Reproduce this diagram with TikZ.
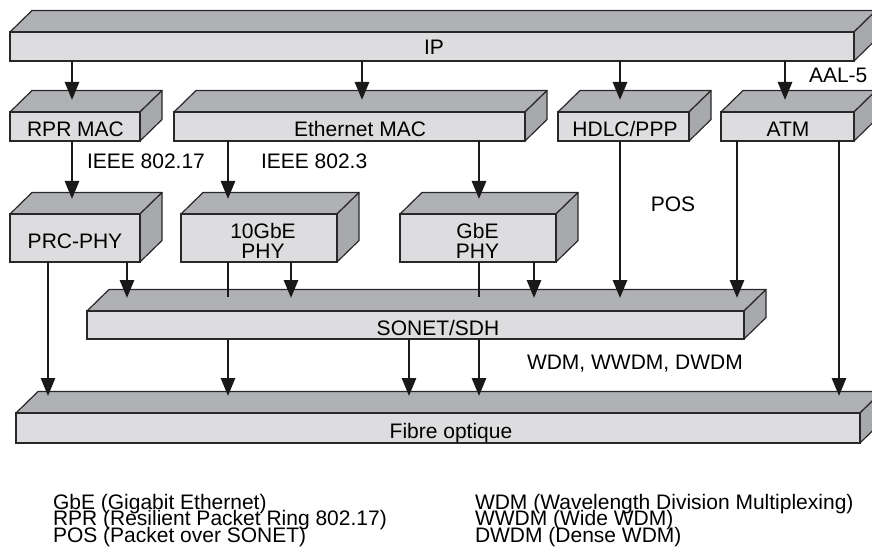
\documentclass[tikz,border=0pt]{standalone}
\usepackage{fontspec}
\setmainfont{Liberation Sans}
\usetikzlibrary{arrows.meta,calc}
\definecolor{frontc}{RGB}{221,221,223}
\definecolor{topc}{RGB}{176,177,181}
\definecolor{sidec}{RGB}{168,169,173}
\definecolor{edgec}{RGB}{40,40,40}
\newcommand\slab[5]{%
  \filldraw[topf] (#2,#3) -- (#2+22,#3-21.5) -- (#4+22,#3-21.5) -- (#4,#3) -- cycle;
  \filldraw[sidef] (#4,#3) -- (#4+22,#3-21.5) -- (#4+22,#5-21.5) -- (#4,#5) -- cycle;
  \node[face, minimum width=#4-#2, minimum height=#5-#3] (#1) at (#2,#3) {};
}
\begin{document}
\begin{tikzpicture}[x=1pt,y=-1pt,
  face/.style={draw=edgec, line width=1.2pt, fill=frontc, inner sep=0pt, outer sep=0pt, anchor=north west},
  topf/.style={draw=edgec, line width=1.2pt, fill=topc, line join=round},
  sidef/.style={draw=edgec, line width=1.2pt, fill=sidec, line join=round},
  lbl/.style={font=\fontsize{21}{20}\selectfont, inner sep=0pt, outer sep=0pt},
  arr/.style={line width=2.8pt, draw=black!90, -{Triangle[length=18pt,width=14pt]}},
  ln/.style={line width=2.8pt, draw=black!90},
]
\useasboundingbox (0,0) rectangle (872,553);
\clip (0,0) rectangle (872,553);

% boxes
\slab{ip}{10}{32}{854}{61}
\slab{rpr}{10}{112}{140}{141}
\slab{eth}{174}{112}{525}{141}
\slab{hdlc}{558}{112}{689}{141}
\slab{atm}{721}{112}{854}{141}
\slab{prc}{10}{214}{140}{262}
\slab{tenge}{181}{214}{337}{262}
\slab{gbe}{400}{214}{556}{262}
\slab{sonet}{87}{311}{744}{339}
\slab{fibre}{16}{413}{860}{443}

% x positions of connectors
\coordinate (c48) at (48,0);
\coordinate (c72) at (72,0);
\coordinate (c127) at (127,0);
\coordinate (c228) at (228,0);
\coordinate (c291) at (291,0);
\coordinate (c362) at (362,0);
\coordinate (c409) at (409,0);
\coordinate (c479) at (479,0);
\coordinate (c534) at (534,0);
\coordinate (c620) at (620,0);
\coordinate (c737) at (737,0);
\coordinate (c785) at (785,0);
\coordinate (c839) at (839,0);

% IP to layer 2
\draw[arr, shorten >=12pt] (ip.south -| c72) -- (rpr.north -| c72);
\draw[arr, shorten >=12pt] (ip.south -| c362) -- (eth.north -| c362);
\draw[arr, shorten >=12pt] (ip.south -| c620) -- (hdlc.north -| c620);
\draw[arr, shorten >=12pt] (ip.south -| c785) -- (atm.north -| c785);

% MAC to PHY
\draw[arr, shorten >=15pt] (rpr.south -| c72) -- (prc.north -| c72);
\draw[arr, shorten >=15pt] (eth.south -| c228) -- (tenge.north -| c228);
\draw[arr, shorten >=15pt] (eth.south -| c479) -- (gbe.north -| c479);

% to SONET
\draw[arr, shorten >=13pt] (prc.south -| c127) -- (sonet.north -| c127);
\draw[ln, shorten >=14pt] (tenge.south -| c228) -- (sonet.north -| c228);
\draw[arr, shorten >=13pt] (tenge.south -| c291) -- (sonet.north -| c291);
\draw[ln, shorten >=14pt] (gbe.south -| c479) -- (sonet.north -| c479);
\draw[arr, shorten >=13pt] (gbe.south -| c534) -- (sonet.north -| c534);
\draw[arr, shorten >=13pt] (hdlc.south -| c620) -- (sonet.north -| c620);
\draw[arr, shorten >=13pt] (atm.south -| c737) -- (sonet.north -| c737);

% to fibre
\draw[arr, shorten >=17pt] (prc.south -| c48) -- (fibre.north -| c48);
\draw[arr, shorten >=17pt] (sonet.south -| c228) -- (fibre.north -| c228);
\draw[arr, shorten >=17pt] (sonet.south -| c409) -- (fibre.north -| c409);
\draw[arr, shorten >=17pt] (sonet.south -| c479) -- (fibre.north -| c479);
\draw[arr, shorten >=17pt] (atm.south -| c839) -- (fibre.north -| c839);

% box labels
\node[lbl, anchor=base] (tip) at (434,55) {IP};
\node[lbl, anchor=base] (trpr) at (75.5,136.5) {RPR MAC};
\node[lbl, anchor=base] (teth) at (360,136.5) {Ethernet MAC};
\node[lbl, anchor=base] (thdlc) at (625,136.5) {HDLC/PPP};
\node[lbl, anchor=base] (tatm) at (788,136.5) {ATM};
\node[lbl, anchor=base] (tprc) at (75,248) {PRC-PHY};
\node[lbl, align=center] (ttenge) at (263,240.5) {10GbE\\PHY};
\node[lbl, align=center] (tgbe) at (477.5,240.5) {GbE\\PHY};
\node[lbl, anchor=base] (tsonet) at (438,335) {SONET/SDH};
\node[lbl, anchor=base] (tfibre) at (451,438) {Fibre optique};

% connector labels
\node[lbl, anchor=base west] (taal) at (809,83) {AAL-5};
\node[lbl, anchor=base west] (tieee1) at (87,169) {IEEE 802.17};
\node[lbl, anchor=base west] (tieee2) at (261,169) {IEEE 802.3};
\node[lbl, anchor=base] (tpos) at (673,212) {POS};
\node[lbl, anchor=base west] (twdm) at (527,369) {WDM, WWDM, DWDM};

% legend
\node[lbl, anchor=base west] (l1) at (53,509) {GbE (Gigabit Ethernet)};
\node[lbl, anchor=base west] (l2) at (53,525.5) {RPR (Resilient Packet Ring 802.17)};
\node[lbl, anchor=base west] (l3) at (53,542) {POS (Packet over SONET)};
\node[lbl, anchor=base west] (r1) at (475,509) {WDM (Wavelength Division Multiplexing)};
\node[lbl, anchor=base west] (r2) at (475,525.5) {WWDM (Wide WDM)};
\node[lbl, anchor=base west] (r3) at (475,542) {DWDM (Dense WDM)};
\end{tikzpicture}
\end{document}
